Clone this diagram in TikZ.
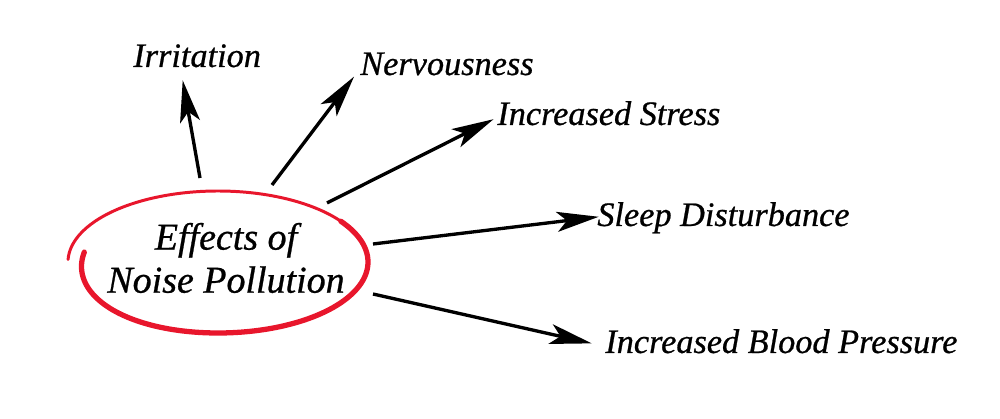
\documentclass[tikz,border=0pt]{standalone}
\usepackage{fontspec}
\setmainfont{Liberation Serif}[ItalicFeatures={FakeBold=0.7}]
\usepackage{tikz}
\usetikzlibrary{arrows.meta}
\definecolor{circlered}{RGB}{232,22,44}

\begin{document}
\begin{tikzpicture}[
    effect/.style={anchor=base west, inner sep=0pt, font=\fontsize{19.5}{22}\selectfont\itshape},
    effectarrow/.style={-{Stealth[length=0.84cm, width=0.4cm, inset=0.2cm]}, line width=1.9pt, shorten >=-1pt},
    ring/.style={circlered, line cap=round, line join=round}
]
            \useasboundingbox (0,0) rectangle (20,8.38);

            % centre text and hand drawn ring
            \node[align=center, inner sep=0pt, font=\fontsize{21.6}{24.5}\selectfont\itshape] at (4.52, 3.22) (effects) {Effects of\\Noise Pollution};
            \draw[ring, line width=1.7pt] plot[domain=178:-188, samples=150, smooth]
                ({4.36+(3.0-0.3*max(0,(-90-\x)/98))*cos(\x)}, {3.14+1.42*sin(\x)});
            \draw[ring, line width=3pt] plot[domain=35:-188, samples=120, smooth]
                ({4.36+(3.0-0.3*max(0,(-90-\x)/98))*cos(\x)}, {3.14+1.42*sin(\x)});

            % effects
            \node[effect] at (2.66, 7.04) (irritation) {Irritation};
            \node[effect] at (7.2, 6.88)  (nervousness) {Nervousness};
            \node[effect] at (9.94, 5.88) (stress) {Increased Stress};
            \node[effect] at (11.94, 3.86) (sleep) {Sleep Disturbance};
            \node[effect] at (12.1, 1.32) (pressure) {Increased Blood Pressure};

            \coordinate (t1) at (4.0, 4.82);   \coordinate (h1) at (3.66, 6.74);
            \coordinate (t2) at (5.44, 4.68);  \coordinate (h2) at (7.06, 6.82);
            \coordinate (t3) at (6.54, 4.32);  \coordinate (h3) at (9.84, 5.98);
            \coordinate (t4) at (7.46, 3.5);   \coordinate (h4) at (11.94, 4.04);
            \coordinate (t5) at (7.46, 2.5);   \coordinate (h5) at (11.8, 1.52);

            \draw[effectarrow] (t1) -- (h1);
            \draw[effectarrow] (t2) -- (h2);
            \draw[effectarrow] (t3) -- (h3);
            \draw[effectarrow] (t4) -- (h4);
            \draw[effectarrow] (t5) -- (h5);
\end{tikzpicture}
\end{document}
